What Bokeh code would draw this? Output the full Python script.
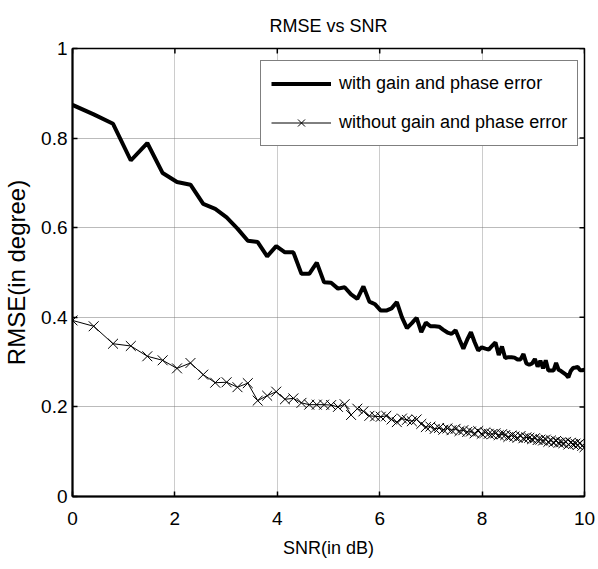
import math
from bokeh.plotting import figure
from bokeh.models import Legend, LegendItem, FixedTicker, Range1d
from bokeh.embed import file_html
from bokeh.resources import INLINE

# SNR in dB (x positions of the simulated points)
snr_db = [
    0.000, 0.414, 0.792, 1.139, 1.461, 1.761, 2.041, 2.304, 2.553, 2.788,
    3.010, 3.222, 3.424, 3.617, 3.802, 3.979, 4.150, 4.314, 4.472, 4.624,
    4.771, 4.914, 5.051, 5.185, 5.315, 5.441, 5.563, 5.682, 5.798, 5.911,
    6.021, 6.128, 6.232, 6.335, 6.435, 6.532, 6.628, 6.721, 6.812, 6.902,
    6.990, 7.076, 7.160, 7.243, 7.324, 7.404, 7.482, 7.559, 7.634, 7.709,
    7.782, 7.853, 7.924, 7.993, 8.062, 8.129, 8.195, 8.261, 8.325, 8.388,
    8.451, 8.513, 8.573, 8.633, 8.692, 8.751, 8.808, 8.865, 8.921, 8.976,
    9.031, 9.085, 9.138, 9.191, 9.243, 9.294, 9.345, 9.395, 9.445, 9.494,
    9.542, 9.590, 9.638, 9.685, 9.731, 9.777, 9.823, 9.868, 9.912, 9.956,
    10.000,
]

rmse_with_error = [
    0.874, 0.853, 0.832, 0.750, 0.789, 0.722, 0.702, 0.696, 0.653, 0.642,
    0.623, 0.598, 0.571, 0.568, 0.536, 0.559, 0.545, 0.545, 0.497, 0.497,
    0.522, 0.478, 0.477, 0.464, 0.467, 0.451, 0.441, 0.469, 0.435, 0.429,
    0.415, 0.415, 0.420, 0.434, 0.400, 0.376, 0.387, 0.399, 0.367, 0.388,
    0.380, 0.380, 0.379, 0.372, 0.366, 0.363, 0.371, 0.350, 0.330, 0.350,
    0.367, 0.345, 0.326, 0.333, 0.330, 0.328, 0.336, 0.344, 0.316, 0.335,
    0.309, 0.311, 0.311, 0.310, 0.306, 0.306, 0.318, 0.297, 0.294, 0.297,
    0.307, 0.290, 0.303, 0.286, 0.304, 0.281, 0.281, 0.281, 0.298, 0.283,
    0.280, 0.276, 0.272, 0.266, 0.280, 0.287, 0.288, 0.289, 0.282, 0.282,
    0.283,
]

rmse_without_error = [
    0.393, 0.380, 0.341, 0.336, 0.313, 0.304, 0.286, 0.298, 0.272, 0.254,
    0.255, 0.244, 0.253, 0.214, 0.225, 0.234, 0.217, 0.219, 0.209, 0.205,
    0.205, 0.205, 0.204, 0.200, 0.206, 0.182, 0.196, 0.190, 0.180, 0.179,
    0.178, 0.180, 0.172, 0.166, 0.174, 0.171, 0.168, 0.172, 0.162, 0.155,
    0.156, 0.151, 0.153, 0.149, 0.152, 0.148, 0.151, 0.146, 0.148, 0.144,
    0.145, 0.141, 0.146, 0.140, 0.143, 0.140, 0.139, 0.141, 0.137, 0.139,
    0.137, 0.133, 0.136, 0.134, 0.131, 0.135, 0.130, 0.132, 0.131, 0.128,
    0.130, 0.126, 0.127, 0.125, 0.127, 0.122, 0.125, 0.121, 0.124, 0.120,
    0.121, 0.119, 0.122, 0.116, 0.120, 0.117, 0.118, 0.115, 0.119, 0.113,
    0.110,
]

x_ticks = [0, 2, 4, 6, 8, 10]
y_ticks = [0, 0.2, 0.4, 0.6, 0.8, 1]
x_tick_labels = {0: "0", 2: "2", 4: "4", 6: "6", 8: "8", 10: "10"}
y_tick_labels = {0: "0", 0.2: "0.2", 0.4: "0.4", 0.6: "0.6", 0.8: "0.8", 1: "1"}
title_text = "RMSE vs SNR"

FONT = "Liberation Sans"

p = figure(width=598, height=569, output_backend="svg", toolbar_location=None,
           x_range=Range1d(0, 10), y_range=Range1d(0, 1),
           min_border_left=72, min_border_right=14, min_border_top=48,
           min_border_bottom=73, title=title_text)
p.background_fill_color = "white"
p.border_fill_color = "white"
p.outline_line_color = "black"
p.outline_line_width = 1.5

p.title.align = "center"
p.title.text_font = FONT
p.title.text_font_size = "18px"
p.title.text_font_style = "normal"
p.title.text_color = "black"
p.title.standoff = 25

xa = p.xaxis[0]
xa.ticker = FixedTicker(ticks=x_ticks)
xa.major_label_overrides = x_tick_labels
xa.axis_label = "SNR(in dB)"
ya = p.yaxis[0]
ya.ticker = FixedTicker(ticks=y_ticks)
ya.major_label_overrides = y_tick_labels
ya.axis_label = "RMSE(in degree)"

for ax in (xa, ya):
    ax.major_tick_in = 5
    ax.major_tick_out = 0
    ax.minor_tick_in = 0
    ax.minor_tick_out = 0
    ax.axis_line_width = 2
    ax.major_tick_line_width = 1.5
    ax.major_label_text_font = FONT
    ax.major_label_text_font_size = "19px"
    ax.major_label_text_color = "black"
    ax.axis_label_text_font_style = "normal"
    ax.axis_label_text_color = "black"

xa.major_label_standoff = 15
xa.axis_label_text_font = FONT
xa.axis_label_text_font_size = "18px"
xa.axis_label_standoff = 10
ya.major_label_standoff = 5
ya.axis_label_text_font = FONT
ya.axis_label_text_font_size = "24px"
ya.axis_label_standoff = 8

p.xgrid.ticker = FixedTicker(ticks=x_ticks)
p.ygrid.ticker = FixedTicker(ticks=y_ticks)
p.xgrid.grid_line_color = "#999999"
p.ygrid.grid_line_color = "#777777"
p.xgrid.grid_line_dash = "1 1"
p.ygrid.grid_line_dash = "1 1"
p.xgrid.grid_line_width = 1
p.ygrid.grid_line_width = 1

# inward tick marks on the top and right edges of the box (clipped to the frame)
p.scatter(x_ticks, [1] * len(x_ticks), marker="dash", size=10, angle=math.pi / 2,
          line_color="black", line_width=1.5)
p.scatter([10] * len(y_ticks), y_ticks, marker="dash", size=10,
          line_color="black", line_width=1.5)

r1 = p.line(snr_db, rmse_with_error, line_color="black", line_width=4)
r2 = p.line(snr_db, rmse_without_error, line_color="black", line_width=1)
r3 = p.scatter(snr_db, rmse_without_error, marker="x", size=14,
               line_color="black", line_width=1)

legend = Legend(items=[
    LegendItem(label="with gain and phase error", renderers=[r1]),
    LegendItem(label="without gain and phase error", renderers=[r2, r3]),
], location=(188, 350))
legend.label_text_font = FONT
legend.label_text_font_size = "18px"
legend.label_text_color = "black"
legend.glyph_width = 60
legend.glyph_height = 25
legend.label_height = 25
legend.label_standoff = 8
legend.spacing = 14
legend.padding = 10
legend.margin = 0
legend.border_line_color = "black"
legend.border_line_width = 1.5
legend.background_fill_color = "white"
legend.background_fill_alpha = 1
p.add_layout(legend)

open("out.html", "w").write(file_html(p, INLINE))
